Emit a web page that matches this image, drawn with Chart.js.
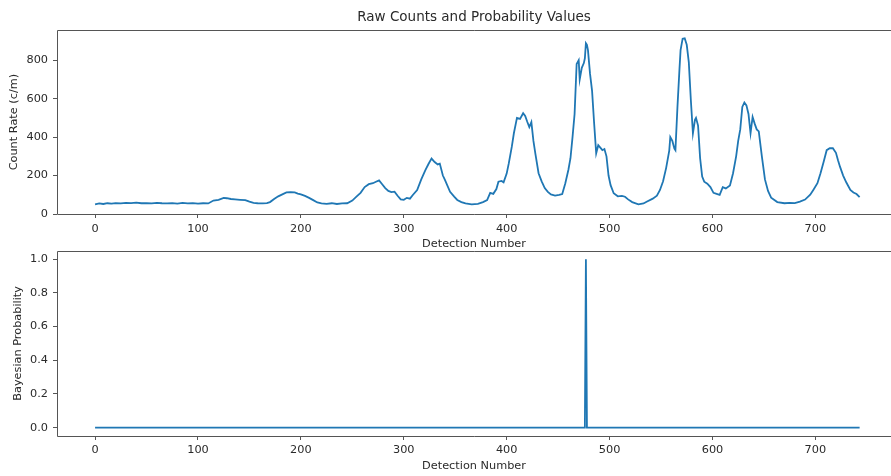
<!DOCTYPE html>
<html>
<head>
<meta charset="utf-8">
<script src="https://cdn.jsdelivr.net/npm/chart.js@4.4.1/dist/chart.umd.min.js"></script>
<style>
  html, body { margin: 0; padding: 0; background: #fff; overflow: hidden; width: 891px; height: 476px; }
  canvas { position: absolute; left: 0; }
  #top { top: 0; }
  #bottom { top: 239px; }
</style>
</head>
<body>
<canvas id="top" width="891" height="252"></canvas>
<canvas id="bottom" width="891" height="237"></canvas>
<script>
// DATA TO DISPLAY
const detection = [
  0, 4, 8, 12, 16, 20, 25, 30, 35, 40, 45, 50, 55, 60, 65, 70, 75, 80, 85, 90,
  95, 100, 105, 110, 115, 120, 125, 128, 132, 136, 141, 146, 150, 154, 158, 163, 167, 170, 174, 178,
  182, 186, 190, 194, 197, 200, 204, 208, 212, 216, 220, 225, 230, 235, 240, 245, 250, 254, 258, 262,
  266, 270, 273, 276, 279, 282, 285, 288, 291, 294, 297, 300, 303, 306, 309, 313, 317, 321, 324, 327,
  330, 333, 335, 338, 340, 345, 349, 352, 356, 360, 366, 372, 377, 381, 384, 387, 390, 392, 395, 397,
  400, 402, 405, 407, 410, 413, 416, 418, 420, 422, 424, 426, 428, 431, 434, 437, 440, 443, 447, 451,
  454, 457, 460, 462, 464, 466, 468, 470, 471, 473, 475, 476, 477, 478, 479, 481, 483, 485, 487, 489,
  491, 493, 495, 497, 499, 501, 504, 508, 512, 515, 518, 522, 528, 533, 536, 542, 546, 549, 552, 555,
  558, 559, 561, 563, 564, 566, 568, 569, 571, 573, 575, 577, 579, 581, 583, 584, 586, 588, 590, 592,
  595, 598, 601, 604, 607, 610, 613, 617, 620, 623, 625, 627, 629, 631, 633, 635, 637, 639, 641, 643,
  645, 648, 651, 654, 657, 663, 670, 675, 680, 685, 690, 695, 698, 702, 705, 708, 711, 714, 717, 720,
  722, 724, 727, 730, 734, 737, 740, 743
];
const countRate = [
  50, 55, 52, 56, 54, 57, 55, 58, 57, 59, 56, 57, 55, 58, 56, 55, 57, 54, 58, 55,
  57, 54, 56, 55, 70, 74, 84, 82, 78, 76, 74, 72, 64, 58, 56, 55, 57, 62, 78, 92,
  102, 112, 114, 112, 106, 102, 94, 84, 72, 60, 55, 53, 56, 52, 55, 56, 70, 90, 110, 140,
  155, 160, 168, 175, 155, 135, 120, 114, 116, 95, 76, 74, 84, 80, 100, 125, 180, 228, 260, 288,
  270, 258, 262, 200, 177, 115, 90, 73, 62, 55, 50, 53, 62, 72, 110, 105, 130, 168, 172, 165,
  210, 262, 350, 420, 500, 495, 524, 510, 480, 452, 478, 380, 310, 212, 170, 135, 115, 102, 96, 100,
  104, 160, 230, 290, 400, 520, 780, 800, 700, 760, 785, 810, 888, 880, 852, 730, 640, 472, 316, 358,
  345, 332, 338, 300, 200, 150, 108, 92, 94, 90, 76, 62, 50, 55, 64, 80, 95, 125, 170, 240,
  330, 400, 380, 340, 332, 560, 760, 852, 912, 914, 880, 790, 592, 420, 490, 500, 460, 290, 195, 168,
  158, 140, 110, 105, 100, 140, 133, 148, 212, 300, 380, 440, 557, 580, 565, 520, 420, 505, 470, 440,
  430, 300, 180, 120, 85, 62, 56, 58, 57, 64, 75, 100, 125, 160, 212, 270, 332, 342, 342, 318,
  280, 245, 200, 165, 125, 112, 104, 88
];

const probDetection = [0, 476, 477, 478, 743];
const probability = [0, 0, 1, 0, 0];

const xTicks = [0, 100, 200, 300, 400, 500, 600, 700];
const countTicks = [0, 200, 400, 600, 800];
const probTicks = [0, 0.2, 0.4, 0.6, 0.8, 1.0];

const title = "Raw Counts and Probability Values";
const xLabel = "Detection Number";
const countLabel = "Count Rate (c/m)";
const probLabel = "Bayesian Probability";

// STYLE
const lineColor = "#1f77b4";
const axisColor = "#555";
const textColor = "#2a2a2a";
const font = "'DejaVu Sans', sans-serif";

// left, top and bottom spines; the right one is cut off by the window edge
const frame = {
  id: "frame",
  afterDraw(chart) {
    const { ctx, chartArea: a } = chart;
    const l = Math.round(a.left) + 0.5, t = Math.round(a.top) + 0.5, b = Math.round(a.bottom) + 0.5;
    const r = chart.width + 2;
    ctx.save();
    ctx.strokeStyle = axisColor;
    ctx.lineWidth = 1;
    ctx.beginPath();
    ctx.moveTo(r, t); ctx.lineTo(l, t); ctx.lineTo(l, b); ctx.lineTo(r, b);
    ctx.stroke();
    ctx.restore();
  }
};

// plotBottom: where the plot area ends inside each canvas
function xScale(plotBottom, titlePad, tickPad) {
  return {
    type: "linear",
    min: -37,
    max: 773.5,
    afterBuildTicks: s => { s.ticks = xTicks.map(v => ({ value: v })); },
    afterFit: s => { s.height = s.chart.canvas.height - plotBottom; },
    grid: { drawOnChartArea: false, drawTicks: true, tickLength: 4, color: axisColor },
    border: { display: false },
    ticks: { color: textColor, font: { family: font, size: 11.3 }, padding: tickPad, maxRotation: 0, autoSkip: false },
    title: { display: true, text: xLabel, color: textColor, font: { family: font, size: 11.3 }, padding: { top: 0, bottom: titlePad } }
  };
}

function yScale(min, max, ticks, label, titlePad, fmt) {
  return {
    min: min,
    max: max,
    afterBuildTicks: s => { s.ticks = ticks.map(v => ({ value: v })); },
    afterFit: s => { s.width = 57; },
    grid: { drawOnChartArea: false, drawTicks: true, tickLength: 4, color: axisColor },
    border: { display: false },
    ticks: { color: textColor, font: { family: font, size: 11.3 }, padding: 5, callback: fmt },
    title: { display: true, text: label, color: textColor, font: { family: font, size: 11.3 }, padding: { top: titlePad, bottom: 0 } }
  };
}

// TOP CHART
new Chart(document.getElementById("top"), {
  type: "line",
  data: {
    datasets: [{
      data: detection.map((d, i) => ({ x: d, y: countRate[i] })),
      borderColor: lineColor,
      borderWidth: 1.8,
      pointRadius: 0,
      tension: 0
    }]
  },
  options: {
    responsive: false,
    animation: false,
    layout: { padding: 0 },
    plugins: {
      legend: { display: false },
      tooltip: { enabled: false },
      title: {
        display: true,
        fullSize: false,
        text: title,
        color: textColor,
        font: { family: font, size: 13.5, weight: "normal" },
        padding: { top: 9, bottom: 5 }
      }
    },
    scales: {
      x: xScale(214, 1, 4),
      y: yScale(0, 956, countTicks, countLabel, 7, v => String(v))
    }
  },
  plugins: [frame]
});

// BOTTOM CHART
new Chart(document.getElementById("bottom"), {
  type: "line",
  data: {
    datasets: [{
      data: probDetection.map((d, i) => ({ x: d, y: probability[i] })),
      borderColor: lineColor,
      borderWidth: 1.8,
      pointRadius: 0,
      tension: 0
    }]
  },
  options: {
    responsive: false,
    animation: false,
    layout: { padding: 0 },
    plugins: {
      legend: { display: false },
      tooltip: { enabled: false }
    },
    scales: {
      x: xScale(197, 3, 3),
      y: yScale(-0.05, 1.05, probTicks, probLabel, 11, v => v.toFixed(1))
    }
  },
  plugins: [frame]
});
</script>
</body>
</html>
